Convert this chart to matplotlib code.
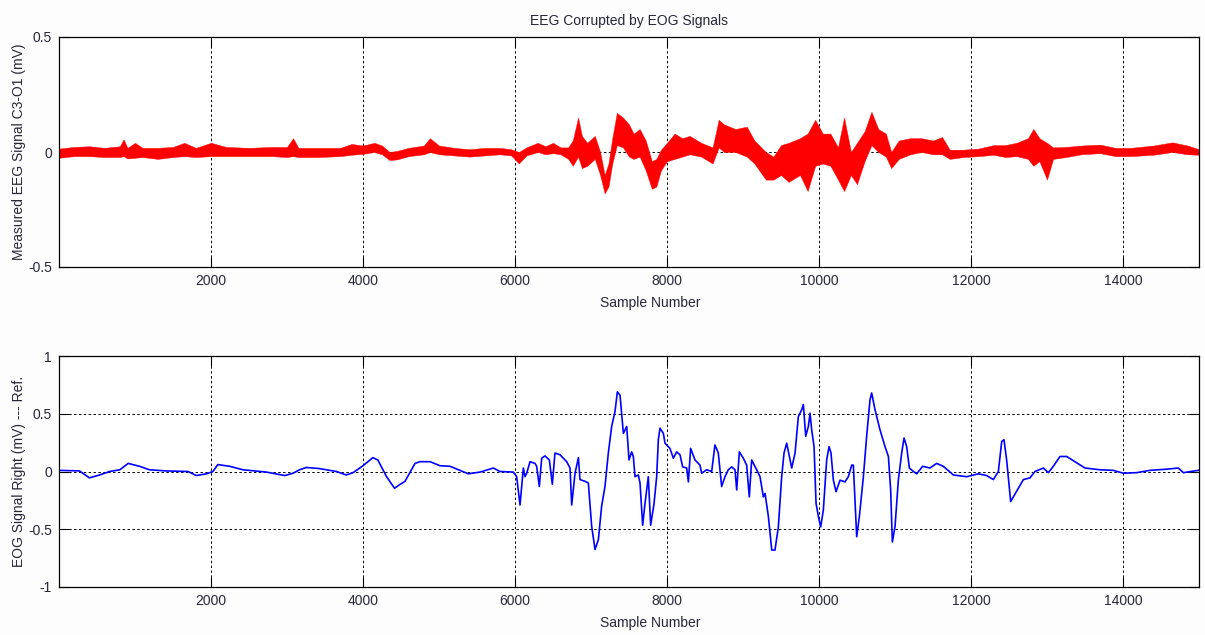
import numpy as np
import matplotlib
matplotlib.use("Agg")
import matplotlib.pyplot as plt

plt.rcParams['font.family'] = ['Liberation Sans', 'DejaVu Sans']

# ---------------- data ----------------
title_top = "EEG Corrupted by EOG Signals"
xlabel = "Sample Number"
ylabel_top = "Measured EEG Signal C3-O1 (mV)"
ylabel_bot = "EOG Signal Right (mV) --- Ref."

x_ticks = [2000, 4000, 6000, 8000, 10000, 12000, 14000]
y_ticks_top = [-0.5, 0, 0.5]
y_ticklabels_top = ["-0.5", "0", "0.5"]
y_ticks_bot = [-1, -0.5, 0, 0.5, 1]
y_ticklabels_bot = ["-1", "-0.5", "0", "0.5", "1"]

# EEG (noisy) signal: envelope (lower / upper) read at sample positions
eeg_x = [0, 200, 400, 600, 800, 850, 900, 1000, 1100, 1300, 1500, 1650, 1800,
         2000, 2200, 2500, 2800, 3000, 3080, 3150, 3400, 3700, 3850, 4000,
         4150, 4250, 4350, 4450, 4600, 4800, 4880, 5000, 5200, 5400, 5600,
         5800, 5950, 6050, 6150, 6300, 6400, 6500, 6600, 6700, 6760, 6830,
         6880, 6950, 7050, 7120, 7180, 7230, 7280, 7340, 7420, 7500, 7560,
         7640, 7720, 7800, 7860, 7920, 8000, 8100, 8200, 8300, 8450, 8600,
         8680, 8750, 8900, 9050, 9150, 9300, 9400, 9500, 9600, 9750, 9850,
         9950, 10050, 10150, 10250, 10330, 10420, 10500, 10600, 10690, 10780,
         10880, 10950, 11050, 11200, 11350, 11500, 11620, 11720, 11900, 12100,
         12300, 12450, 12600, 12750, 12820, 12900, 13000, 13080, 13250, 13450,
         13700, 13900, 14100, 14400, 14650, 14850, 15000]
eeg_lo = [-0.025, -0.018, -0.018, -0.022, -0.022, -0.018, -0.028, -0.025, -0.022,
          -0.03, -0.022, -0.018, -0.022, -0.018, -0.018, -0.018, -0.018, -0.022,
          -0.018, -0.022, -0.022, -0.018, -0.012, -0.008, 0.0, -0.01, -0.035,
          -0.032, -0.018, -0.01, 0.0, -0.01, -0.015, -0.02, -0.015, -0.01,
          -0.015, -0.05, -0.015, 0.0, -0.01, -0.005, -0.01, -0.03, -0.06,
          -0.02, -0.07, -0.06, -0.03, -0.1, -0.18, -0.15, -0.05, 0.03, 0.02,
          -0.02, -0.03, -0.02, -0.08, -0.16, -0.15, -0.08, -0.04, -0.03, -0.02,
          -0.01, -0.02, -0.05, 0.02, 0.0, 0.0, -0.02, -0.05, -0.12, -0.12,
          -0.1, -0.13, -0.1, -0.17, -0.06, -0.05, -0.06, -0.12, -0.17, -0.1,
          -0.14, -0.04, 0.03, 0.0, -0.02, -0.07, -0.03, -0.01, 0.0, -0.01,
          -0.01, -0.03, -0.022, -0.018, -0.012, -0.022, -0.018, -0.03, -0.06,
          -0.04, -0.12, -0.03, -0.022, -0.01, -0.005, -0.018, -0.018, -0.012,
          0.0, -0.01, -0.012]
eeg_hi = [0.015, 0.022, 0.025, 0.018, 0.025, 0.055, 0.018, 0.04, 0.018, 0.018,
          0.022, 0.04, 0.018, 0.04, 0.022, 0.018, 0.022, 0.022, 0.06, 0.018,
          0.018, 0.018, 0.035, 0.028, 0.04, 0.028, 0.0, 0.005, 0.018, 0.028, 0.06,
          0.028, 0.018, 0.012, 0.018, 0.018, 0.012, 0.0, 0.02, 0.04, 0.025, 0.04,
          0.02, 0.02, 0.05, 0.15, 0.07, 0.04, 0.07, 0.0, -0.1, -0.05, 0.06,
          0.17, 0.15, 0.12, 0.08, 0.1, 0.05, -0.04, -0.03, 0.01, 0.04, 0.08,
          0.06, 0.07, 0.04, 0.02, 0.14, 0.12, 0.1, 0.11, 0.05, 0.0, -0.02,
          0.03, 0.04, 0.06, 0.08, 0.14, 0.08, 0.08, 0.02, 0.15, 0.0, 0.04,
          0.09, 0.175, 0.1, 0.08, 0.0, 0.05, 0.06, 0.06, 0.05, 0.065, 0.01,
          0.01, 0.015, 0.03, 0.03, 0.04, 0.06, 0.1, 0.06, 0.04, 0.02, 0.022,
          0.028, 0.032, 0.018, 0.018, 0.028, 0.042, 0.028, 0.012]

# EOG signal, read at sample positions
eog_x = [0, 270, 400, 535, 665, 800, 910, 1060, 1190, 1410, 1700, 1805, 1940,
         2025, 2090, 2245, 2420, 2730, 2970, 3080, 3165, 3255, 3430, 3650,
         3780, 3870, 4000, 4130, 4195, 4310, 4415, 4480, 4553, 4684, 4750,
         4882, 5013, 5145, 5276, 5386, 5540, 5715, 5803, 5978, 6022, 6066,
         6110, 6132, 6154, 6198, 6263, 6285, 6320, 6351, 6395, 6452, 6491,
         6526, 6592, 6680, 6724, 6746, 6790, 6834, 6855, 6921, 6965, 7009,
         7053, 7097, 7140, 7184, 7228, 7272, 7316, 7347, 7382, 7426, 7470,
         7500, 7535, 7557, 7579, 7623, 7645, 7680, 7710, 7754, 7785, 7829,
         7864, 7886, 7908, 7952, 7974, 8039, 8083, 8127, 8171, 8206, 8259,
         8281, 8311, 8368, 8434, 8456, 8522, 8588, 8631, 8675, 8719, 8763,
         8807, 8851, 8895, 8917, 8952, 9004, 9048, 9083, 9114, 9180, 9224,
         9268, 9290, 9334, 9378, 9421, 9465, 9509, 9540, 9575, 9610, 9641,
         9685, 9728, 9772, 9794, 9825, 9860, 9882, 9904, 9935, 9961, 9992,
         10022, 10057, 10101, 10132, 10158, 10189, 10224, 10277, 10342, 10386,
         10430, 10452, 10474, 10496, 10531, 10584, 10627, 10671, 10693, 10737,
         10803, 10869, 10913, 10943, 10965, 11000, 11044, 11088, 11119, 11154,
         11189, 11242, 11285, 11364, 11460, 11548, 11636, 11768, 11943, 12097,
         12206, 12294, 12360, 12404, 12434, 12469, 12522, 12601, 12689, 12776,
         12842, 12952, 13018, 13083, 13171, 13259, 13368, 13500, 13697, 13873,
         14004, 14180, 14355, 14574, 14728, 14794, 14991]
eog_y = [0.01, 0.005, -0.055, -0.03, 0.0, 0.015, 0.07, 0.045, 0.015, 0.005,
         0.0, -0.035, -0.02, 0.0, 0.06, 0.045, 0.015, -0.005, -0.035, -0.015,
         0.015, 0.035, 0.025, 0.0, -0.03, -0.01, 0.05, 0.12, 0.10, -0.045,
         -0.145, -0.115, -0.085, 0.07, 0.085, 0.085, 0.05, 0.045, 0.01, -0.02,
         -0.005, 0.03, 0.0, -0.005, -0.045, -0.29, 0.03, -0.045, -0.015, 0.085,
         0.07, 0.045, -0.13, 0.115, 0.135, 0.10, -0.11, 0.16, 0.145, 0.085,
         0.03, -0.29, -0.015, 0.12, -0.07, -0.085, -0.10, -0.475, -0.675,
         -0.59, -0.30, -0.13, 0.16, 0.39, 0.52, 0.69, 0.66, 0.33, 0.39, 0.10,
         0.17, 0.13, -0.045, -0.03, -0.10, -0.465, -0.28, -0.045, -0.465,
         -0.28, -0.045, 0.275, 0.375, 0.33, 0.245, 0.20, 0.115, 0.17, 0.145,
         0.04, 0.03, -0.09, 0.20, 0.10, 0.055, -0.015, 0.015, 0.0, 0.23, 0.16,
         -0.13, -0.045, 0.015, 0.04, 0.015, -0.16, 0.17, 0.115, 0.055, -0.22,
         0.10, 0.015, -0.045, -0.22, -0.19, -0.39, -0.68, -0.68, -0.48,
         -0.045, 0.16, 0.245, 0.13, 0.03, 0.16, 0.475, 0.535, 0.58, 0.305,
         0.39, 0.505, 0.36, 0.215, -0.275, -0.39, -0.48, -0.335, 0.10, 0.215,
         0.16, -0.075, -0.175, -0.075, -0.09, -0.045, 0.055, 0.055, -0.25,
         -0.565, -0.39, -0.045, 0.305, 0.62, 0.68, 0.535, 0.36, 0.215, 0.13,
         -0.16, -0.61, -0.48, -0.075, 0.16, 0.29, 0.215, 0.03, 0.0, -0.02,
         0.045, 0.03, 0.07, 0.045, -0.03, -0.045, -0.02, -0.035, -0.07, 0.0,
         0.26, 0.275, 0.10, -0.26, -0.17, -0.07, -0.055, 0.0, 0.03, -0.01,
         0.045, 0.13, 0.13, 0.085, 0.03, 0.015, 0.01, -0.015, -0.01, 0.01,
         0.02, 0.03, -0.01, 0.01]

# ---------------- figure ----------------
W, H = 1205, 635
fig = plt.figure(figsize=(W / 100, H / 100), dpi=100, facecolor='#fdfdfd')

def px_axes(l, t, r, b):
    return fig.add_axes([l / W, 1 - b / H, (r - l) / W, (b - t) / H])

AX_L, AX_R = 59, 1199
ax1 = px_axes(AX_L, 37, AX_R, 267)
ax2 = px_axes(AX_L, 356, AX_R, 587)

text_color = '#262638'
fs = 10
YLAB_X = (26 - AX_L) / (AX_R - AX_L)

def style(ax):
    ax.set_facecolor('white')
    ax.set_xlim(0, 15000)
    ax.set_xticks(x_ticks)
    ax.set_xticklabels([str(t) for t in x_ticks])
    ax.tick_params(direction='in', length=7, width=0.8, top=True, right=True,
                   labelsize=fs, colors='black', labelcolor=text_color, pad=5)
    for s in ax.spines.values():
        s.set_linewidth(0.9)
        s.set_color('black')
    ax.grid(True, color='black', linestyle=(0, (2.5, 2.5)), linewidth=0.7)
    ax.set_axisbelow(True)
    ax.set_xlabel(xlabel, fontsize=fs, color=text_color)
    ax.xaxis.set_label_coords((650 - AX_L) / (AX_R - AX_L), -0.125)

# top: EEG
style(ax1)
ax1.fill_between(eeg_x, eeg_lo, eeg_hi, color='red', linewidth=0.3,
                 edgecolor='red', zorder=2)
ax1.set_ylim(-0.5, 0.5)
ax1.set_yticks(y_ticks_top)
ax1.set_yticklabels(y_ticklabels_top)
ax1.set_ylabel(ylabel_top, fontsize=fs, color=text_color)
ax1.yaxis.set_label_coords(YLAB_X, 0.5)
ax1.set_title(title_top, fontsize=fs, color=text_color, pad=9)

# bottom: EOG
style(ax2)
ax2.plot(eog_x, eog_y, color='blue', linewidth=1.2, zorder=2)
ax2.set_ylim(-1, 1)
ax2.set_yticks(y_ticks_bot)
ax2.set_yticklabels(y_ticklabels_bot)
ax2.set_ylabel(ylabel_bot, fontsize=fs, color=text_color)
ax2.yaxis.set_label_coords(YLAB_X, 0.5)

fig.savefig('out.png', dpi=100, facecolor=fig.get_facecolor())
